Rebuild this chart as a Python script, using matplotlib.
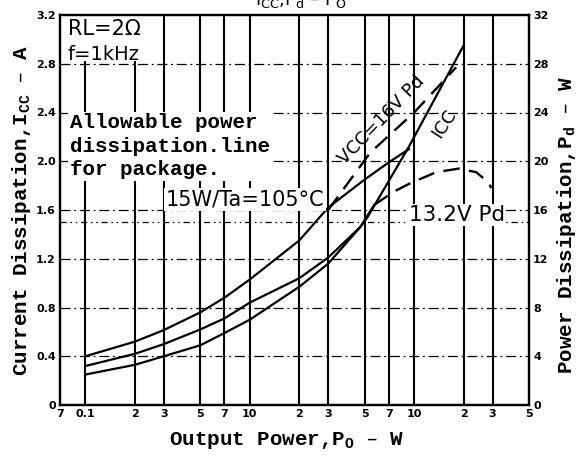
import numpy as np
import matplotlib
matplotlib.use("Agg")
from matplotlib import pyplot as plt
from matplotlib.patches import Rectangle

# output power (W) and curve readings
po_icc = [0.1, 0.2, 0.3, 0.5, 0.7, 1, 2, 3, 4.7, 5.2, 9.3, 20]
icc = [0.25, 0.33, 0.40, 0.49, 0.59, 0.70, 0.97, 1.16, 1.46, 1.54, 2.12, 2.95]

po_pd13 = [0.1, 0.2, 0.3, 0.5, 0.7, 1, 2, 3, 4.7, 5.7]
pd13_solid = [0.32, 0.42, 0.50, 0.62, 0.71, 0.84, 1.04, 1.21, 1.46, 1.64]   # A scale
po_pd13_dash = [5.7, 7.5, 9.5, 13.6, 18.7, 23.9, 28.6, 29.4]
pd13_dash = [16.4, 17.5, 18.2, 19.1, 19.4, 19.1, 18.2, 17.8]              # W

po_pd16 = [0.1, 0.2, 0.3, 0.5, 0.7, 1, 2, 3, 5, 7, 9.3]
pd16_solid = [0.40, 0.52, 0.615, 0.76, 0.88, 1.03, 1.35, 1.62, 1.85, 1.99, 2.10]
po_pd16_dash = [3, 5.4, 10, 18]
pd16_dash = [16.0, 20.7, 24.0, 27.7]

allow_pd = 15  # W

xtick_pos = [0.07, 0.1, 0.2, 0.3, 0.5, 0.7, 1, 2, 3, 5, 7, 10, 20, 30, 50]
xtick_lbl = ['7', '0.1', '2', '3', '5', '7', '10', '2', '3', '5', '7', '10', '2', '3', '5']
grid_x = [0.1, 0.2, 0.3, 0.5, 0.7, 1, 2, 3, 5, 7, 10, 20, 30]
yticks_a = [0, 0.4, 0.8, 1.2, 1.6, 2.0, 2.4, 2.8, 3.2]
yticks_w = [0, 4, 8, 12, 16, 20, 24, 28, 32]

mono = 'Liberation Mono'
sans = 'DejaVu Sans'

fig = plt.figure(figsize=(5.79, 4.57), dpi=100)
ax = fig.add_axes([60/579, 52/457, 469/579, 390/457])
ax.set_xscale('log')
ax.set_xlim(0.07, 50)
ax.set_ylim(0, 3.2)

# grid
for gx in grid_x:
    ax.axvline(gx, color='black', lw=1.5, zorder=1)
for gy in yticks_a[1:-1]:
    ax.axhline(gy, color='black', lw=0.9, dashes=(8, 3, 1.5, 3), zorder=1)
ax.axhline(allow_pd/10, color='black', lw=0.9, dashes=(5, 3, 1.2, 3, 1.2, 3), zorder=1)

# blank corner behind the conditions
ax.add_patch(Rectangle((0.07, 2.82), 0.29-0.07, 0.38, facecolor='white',
                       edgecolor='none', zorder=2))

ax.plot(po_icc, icc, color='black', lw=1.6, zorder=3)
ax.plot(po_pd13, pd13_solid, color='black', lw=1.6, zorder=3)
ax.plot(po_pd16, pd16_solid, color='black', lw=1.6, zorder=3)

ax2 = ax.twinx()
ax2.set_ylim(0, 32)
ax2.plot(po_pd13_dash, pd13_dash, color='black', lw=1.7, dashes=(7, 4), zorder=3)
ax2.plot(po_pd16_dash, pd16_dash, color='black', lw=1.7, dashes=(7, 4), zorder=3)

ax.set_xticks(xtick_pos)
ax.set_xticklabels(xtick_lbl)
ax.minorticks_off()
ax.set_yticks(yticks_a)
ax.set_yticklabels(['0', '0.4', '0.8', '1.2', '1.6', '2.0', '2.4', '2.8', '3.2'])
ax2.set_yticks(yticks_w)
for a in (ax, ax2):
    a.tick_params(length=0, pad=3, labelsize=8)
    for lab in a.get_xticklabels() + a.get_yticklabels():
        lab.set_fontweight('bold')
    for s in a.spines.values():
        s.set_linewidth(1.6)

ax.set_xlabel('Output Power,P$_\\mathregular{O}$ – W', family=mono,
              weight='bold', fontsize=15)
ax.xaxis.set_label_coords(0.484, -0.065)
ax.set_ylabel('Current Dissipation,I$_\\mathregular{CC}$ – A', family=mono,
              weight='bold', fontsize=15)
ax.yaxis.set_label_coords(-0.058, 0.5)
ax2.set_ylabel('Power Dissipation,P$_\\mathregular{d}$ – W', family=mono,
               weight='bold', fontsize=15, rotation=90)
ax2.yaxis.set_label_coords(1.055, 0.46)

fig.text(0.52, 1.0, 'I$_\\mathregular{CC}$,P$_\\mathregular{d}$ – P$_\\mathregular{O}$',
         family=sans, fontsize=13, ha='center', va='center')

white = dict(facecolor='white', edgecolor='none', pad=1)
ax.text(0.017, 0.965, 'RL=2Ω', transform=ax.transAxes, family=sans,
        fontsize=15, va='center', zorder=4)
ax.text(0.015, 0.9, 'f=1kHz', transform=ax.transAxes, family=sans,
        fontsize=14, va='center', zorder=4)
ax.text(0.021, 0.748, 'Allowable power\ndissipation.line\nfor package.',
        transform=ax.transAxes, family=mono, weight='bold', fontsize=15,
        va='top', linespacing=1.3, bbox=white, zorder=4)
ax.text(0.394, 0.526, '15W/Ta=105°C', transform=ax.transAxes, family=sans,
        fontsize=15, ha='center', va='center', bbox=white, zorder=4)
ax.text(0.744, 0.487, '13.2V Pd', transform=ax.transAxes, family=sans,
        fontsize=15.5, ha='left', va='center', bbox=white, zorder=4)
ax.text(0.686, 0.73, 'VCC=16V Pd', transform=ax.transAxes, family=sans,
        fontsize=13, ha='center', va='center', rotation=46, zorder=4)
ax.text(0.82, 0.722, 'ICC', transform=ax.transAxes, family=sans,
        fontsize=13, ha='center', va='center', rotation=57, zorder=4)

fig.savefig('out.png', dpi=100)
